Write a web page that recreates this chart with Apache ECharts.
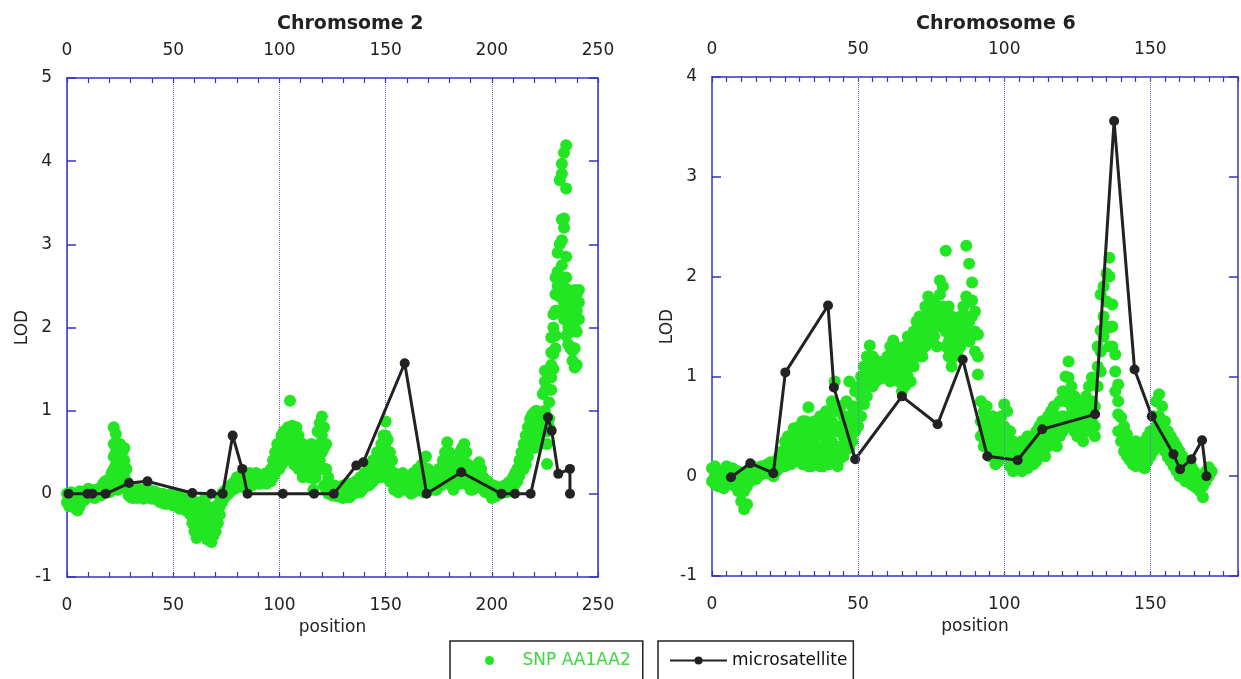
<!DOCTYPE html>
<html><head><meta charset="utf-8">
<script src="https://cdn.jsdelivr.net/npm/echarts@6/dist/echarts.min.js"></script>
<style>html,body{margin:0;padding:0;background:#fff}#c{width:1241px;height:679px}</style>
</head><body><div id="c"></div>
<script>
// ---------- Chromosome 2 ----------
const chr2Title = 'Chromsome 2';
const snp2Pos = [0,1,2,3,4,5,6,7,8,9,10,11,12,13,14,15,16,17,18,19,20,21,22,23,24,25,26,27,28,29,
30,31,32,33,34,35,36,37,38,39,40,41,42,43,44,45,46,47,48,49,50,51,52,53,54,55,56,57,58,59,
60,61,62,63,64,65,66,67,68,69,70,71,72,73,74,75,76,77,78,79,80,81,82,83,84,85,86,87,88,89,
90,91,92,93,94,95,96,97,98,99,100,101,102,103,104,105,106,107,108,109,110,111,112,113,114,115,116,117,118,119,
120,121,122,123,124,125,126,127,128,129,130,131,132,133,134,135,136,137,138,139,140,141,142,143,144,145,146,147,148,149,
150,151,152,153,154,155,156,157,158,159,160,161,162,163,164,165,166,167,168,169,170,171,172,173,174,175,176,177,178,179,
180,181,182,183,184,185,186,187,188,189,190,191,192,193,194,195,196,197,198,199,200,201,202,203,204,205,206,207,208,209,
210,211,212,213,214,215,216,217,218,219,220,221,222,223,224,225,226,227,228,229,230,231,232,233,234,235,236,237,238,239,240,241];
const snp2Lod = [
[0,-0.1],[-0.05,-0.15],[0.02,-0.12],[-0.05,-0.1],[-0.18,-0.08],[-0.2,0],[-0.1,0.03,-0.15],[-0.05],[0,-0.08],[0.03,-0.05],
[-0.02,0.06],[0,0.05],[-0.03,0.04],[0.02,-0.05],[0.05,-0.02],[0,0.06],[0.08,-0.02],[0.12,0.02],[0.05,0.15],[0.15,0.02],
[0.1,0.02,0.18],[0.25,0.05,0.15],[0.8,0.6,0.45,0.3,0.15],[0.72,0.5,0.35,0.15],[0.55,0.35,0.2,0.05],[0.6,0.45,0.25,0.1],[0.5,0.3,0.1],[0.55,0.4,0.2],[0.3,0.05,0.15],[0.1,-0.02],
[0.05,-0.04],[0.02,-0.05],[0.08,0],[0,-0.05],[0.03,-0.04],[-0.03,0.05],[0.02,-0.06],[0.05,-0.02],[-0.02,0.06],[0.03,-0.05],
[0,-0.06],[-0.05,0.03],[0.02,-0.06],[-0.08,0],[-0.03,-0.1],[0,-0.1],[-0.05,-0.12],[-0.12,-0.02],[-0.03,-0.1],[-0.08,0],
[-0.05,-0.14],[-0.12,-0.03],[-0.02,-0.1],[-0.1,-0.18],[-0.15,-0.05],[-0.05,-0.12],[-0.1,-0.2],[-0.08,-0.16],[-0.25,-0.1],[-0.35,-0.15],
[-0.45,-0.2,-0.3],[-0.53,-0.3,-0.1],[-0.45,-0.25,-0.35],[-0.4,-0.15,-0.28],[-0.35,-0.2],[-0.5,-0.3,-0.05,-0.4],[-0.55,-0.35,-0.15,-0.45],[-0.45,-0.25,-0.35],[-0.58,-0.4,-0.2,-0.5],[-0.5,-0.3,-0.4],
[-0.45,-0.15,-0.3],[-0.35,-0.2],[-0.25,-0.05,-0.15],[-0.1,0],[-0.05,0.03],[0.05,-0.02],[0.08,0],[0.1,0.03],[0.12,0.05],[0.15,0.06],
[0.2,0.08],[0.18,0.1],[0.22,0.12],[0.15,0.08],[0.25,0.18],[0.2,0.12],[0.15,0.25],[0.18,0.1],[0.22,0.14],[0.15,0.25],
[0.2,0.12],[0.12,0.2],[0.22,0.14],[0.15,0.24],[0.2,0.12],[0.25,0.15],[0.3,0.15],[0.4,0.2],[0.5,0.25,0.35],[0.6,0.35,0.45],
[0.55,0.4,0.3],[0.7,0.5,0.35],[0.75,0.6,0.45],[0.7,0.55,0.4],[0.8,0.6,0.45],[1.12,0.78,0.5,0.62],[0.82,0.65,0.45],[0.75,0.55,0.35],[0.8,0.6,0.45],[0.7,0.45,0.3],
[0.55,0.35,0.45],[0.6,0.4,0.2],[0.45,0.25,0.35],[0.55,0.35,0.45],[0.5,0.2,0.35],[0.6,0.4,0.5],[0.3,0.05,0.18],[0.55,0.2,0.38],[0.75,0.5,0.3],[0.85,0.6,0.4],
[0.93,0.7,0.5,0.3],[0.8,0.55,0.1,0.3],[0.6,0.3,0.05],[0.2,0,0.1],[0.1,0.02],[0.05,-0.02],[0.02,0.1],[-0.03,0.08],[0.05,-0.03],[0,0.08],
[-0.05,0.1],[0.05,-0.03],[0.02,0.12],[0.12,-0.04],[0.08,0.02],[0,0.1],[0.15,0.05],[0.1,0.02],[0.2,0.02,0.1],[0.12,0.05],
[0.25,0.08],[0.18,0.1],[0.3,0.1,0.2],[0.22,0.12],[0.4,0.15,0.28],[0.3,0.18],[0.5,0.2,0.35],[0.45,0.3],[0.6,0.4,0.2],[0.7,0.5,0.3],
[0.87,0.55,0.35,0.7],[0.65,0.45,0.2],[0.5,0.3,0.15],[0.4,0.15,0.25],[0.25,0.05,0.15],[0.2,0.1],[0.15,0.02],[0.22,0.08],[0.1,0.25],[0.05,0.15],
[0.18,0.05],[0.2,0.08],[0.1,0],[0.25,0.12],[0.12,0.03],[0.3,0.05,0.18],[0.2,0.08],[0.35,0.1,0.22],[0.25,0.02,0.12],[0.45,0.15,0.3],
[0.3,0.12],[0.2,0.05],[0.1,0.2],[0.25,0.05,0.15],[0.15,0.05],[0.3,0.1,0.2],[0.2,0.1],[0.4,0.15,0.28],[0.5,0.3,0.15],[0.62,0.45,0.2,0.32],
[0.5,0.3,0.15],[0.35,0.1,0.22],[0.2,0.05],[0.3,0.15],[0.4,0.15,0.28],[0.5,0.25,0.12],[0.55,0.3,0.42],[0.6,0.4,0.2],[0.5,0.25,0.12],[0.35,0.1,0.22],
[0.25,0.05,0.15],[0.15,0.05],[0.3,0.1,0.2],[0.2,0.08],[0.38,0.15,0.26],[0.3,0.12],[0.2,0.05],[0.1,0.02],[0.05,0.15],[0,0.08],
[-0.05,0.05],[0.02,0.1],[-0.03,0.05],[0.05,0],[0,0.08],[0.08,0.02],[0.03,0.1],[0.1,0.02],[0.05,0.14],[0.12,0.05],
[0.2,0.05,0.12],[0.25,0.12],[0.3,0.15],[0.4,0.22],[0.5,0.3,0.4],[0.6,0.45,0.3],[0.7,0.5,0.35],[0.8,0.6,0.45],[0.9,0.7,0.55],[0.95,0.8,0.6],
[0.98,0.85,0.7,0.55],[1.0,0.85,0.7],[0.95,0.8,0.65],[0.9,0.75,0.6],[1.2,0.95,0.8],[1.48,1.35,1.24,1.0,0.85],[0.36,0.6,0.75],[1.1,0.9,0.8],[1.88,1.7,1.55,1.4,1.25],[2.16,2.0,1.68,1.5],
[2.2,2.4,2.6,1.9,1.75],[2.67,2.5,2.9],[3.77,2.37,3.0,2.2],[3.97,3.85,3.3,3.05,2.75,2.5],[4.1,3.31,3.2,2.49,2.3,2.1],[4.19,3.67,2.85,2.6,2.35,2.1,1.9],[2.45,2.2,2.0,1.8],[2.4,2.15,1.95,1.75],[2.3,2.1,1.72,1.6],[2.45,2.24,2.0,1.52,1.75],
[2.4,2.2,1.95,1.55],[2.45,2.3,2.1]];
const micro2Pos = [0.7,9.7,11.9,18.2,29.2,37.9,59,68,73.3,78,82.5,85,101.6,116.3,125.6,136.2,139.5,159,169.3,185.6,204.6,210.9,218.3,226.4,228.2,231.3,236.8,236.8];
const micro2Lod = [0,0,0,0,0.13,0.15,0.01,0,0,0.70,0.30,0,0,0,0,0.34,0.38,1.57,0,0.26,0,0,0,0.92,0.76,0.24,0.30,0];

// ---------- Chromosome 6 ----------
const chr6Title = 'Chromosome 6';
const snp6Pos = [0,1,2,3,4,5,6,7,8,9,10,11,12,13,14,15,16,17,18,19,20,21,22,23,24,25,26,27,28,29,
30,31,32,33,34,35,36,37,38,39,40,41,42,43,44,45,46,47,48,49,50,51,52,53,54,55,56,57,58,59,
60,61,62,63,64,65,66,67,68,69,70,71,72,73,74,75,76,77,78,79,80,81,82,83,84,85,86,87,88,89,
90,91,92,93,94,95,96,97,98,99,100,101,102,103,104,105,106,107,108,109,110,111,112,113,114,115,116,117,118,119,
120,121,122,123,124,125,126,127,128,129,130,131,132,133,134,135,136,137,138,139,140,141,142,143,144,145,146,147,148,149,
150,151,152,153,154,155,156,157,158,159,160,161,162,163,164,165,166,167,168,169,170,171];
const snp6Lod = [
[0.08,-0.05],[0.1,0,-0.08],[0.02,-0.1],[0.05,-0.05],[-0.02,-0.12],[0.1,0],[0.05,-0.08],[0.08,-0.02],[0,-0.1],[-0.15,0.05],
[-0.25,-0.05],[-0.33,-0.15,0.02],[-0.28,-0.1,0.05],[-0.05,0.08],[0,0.1],[0.05,-0.03],[0.08,0],[0.02,0.1],[0.1,0.04],[0.12,0.03],
[0.06,0.14],[0.1,0],[0.15,0.05],[0.2,0.08],[0.25,0.12],[0.35,0.2,0.1],[0.3,0.15,0.4],[0.4,0.25,0.12],[0.35,0.2,0.48],[0.45,0.3,0.15],
[0.5,0.35,0.2],[0.4,0.25,0.12,0.55],[0.55,0.3,0.15,0.42],[0.69,0.45,0.25,0.1],[0.5,0.35,0.2,0.1],[0.4,0.25,0.12,0.55],[0.55,0.3,0.15,0.42],[0.45,0.25,0.1,0.6],[0.6,0.4,0.2,0.1],[0.5,0.3,0.15,0.65],
[0.65,0.45,0.25,0.12],[0.75,0.55,0.35,0.2],[0.95,0.7,0.5,0.3,0.15],[0.65,0.45,0.25,0.1],[0.7,0.5,0.3,0.18],[0.6,0.4,0.2],[0.75,0.55,0.35],[0.95,0.6,0.4,0.28],[0.7,0.5,0.35],[0.85,0.6,0.45],
[0.9,0.7,0.5],[1.0,0.8,0.6],[1.1,0.9,0.72],[1.2,1.0,0.8],[1.31,1.1,0.95],[1.2,1.05,0.9],[1.1,0.95],[1.15,1.05],[1.08,0.98],[1.12,1.0],
[1.2,1.05],[1.3,1.1,0.95],[1.36,1.2,1.05],[1.3,1.15,1.0],[1.25,1.1,0.95],[1.2,1.05,0.85],[1.3,1.1,0.9],[1.4,1.2,1.0],[1.35,1.15,0.95],[1.45,1.3,1.1],
[1.55,1.35,1.2],[1.6,1.45,1.3],[1.5,1.35,1.2],[1.7,1.5,1.3],[1.8,1.6,1.4],[1.65,1.5,1.35],[1.75,1.55,1.4],[1.7,1.5,1.3],[1.96,1.82,1.6],[1.9,1.7,1.5],
[2.26,1.6,1.45,1.3],[1.7,1.5,1.35,1.2],[1.6,1.4,1.25,1.1],[1.55,1.35,1.2],[1.5,1.4,1.25],[1.6,1.45,1.3],[1.7,1.55,1.4],[2.31,1.8,1.6,1.45],[2.13,1.75,1.55,1.35],[1.94,1.76,1.6,1.4],
[1.65,1.45,1.25],[1.42,1.02,1.2],[0.75,0.55,0.4],[0.65,0.45,0.3],[0.7,0.5,0.35],[0.55,0.35,0.2],[0.6,0.4,0.25],[0.45,0.25,0.12],[0.55,0.3,0.15],[0.6,0.4,0.2],
[0.72,0.5,0.3],[0.65,0.4,0.2],[0.45,0.25,0.1],[0.35,0.15,0.05],[0.3,0.08,0.18],[0.25,0.1],[0.35,0.15,0.05],[0.3,0.1,0.2],[0.4,0.2,0.08],[0.35,0.15,0.25],
[0.4,0.25,0.12],[0.45,0.3,0.15],[0.5,0.35,0.2],[0.55,0.4,0.25],[0.5,0.35,0.2],[0.6,0.45,0.3],[0.65,0.5,0.35],[0.7,0.5,0.35],[0.6,0.45,0.3],[0.75,0.55,0.4],
[0.85,0.6,0.45],[1.0,0.75,0.5],[1.15,0.99,0.8,0.6],[0.9,0.7,0.5],[0.8,0.6,0.45],[0.7,0.55,0.4],[0.75,0.6,0.45],[0.65,0.5,0.35],[0.8,0.6,0.45],[0.9,0.7,0.5],
[0.99,0.75,0.55],[0.7,0.5,0.4],[1.3,1.1,0.9],[1.82,1.46,1.25,1.05],[1.9,1.6,1.4],[2.03,1.75,1.5],[2.19,2.0,1.49,1.3],[1.72,1.5,1.3],[1.22,1.05,0.85],[0.92,0.75,0.62,0.45],
[0.59,0.45,0.35],[0.5,0.35,0.25],[0.42,0.3,0.2],[0.35,0.25,0.16],[0.3,0.2,0.12],[0.22,0.35,0.1],[0.3,0.15],[0.25,0.1],[0.35,0.2,0.08],[0.4,0.25,0.15],
[0.45,0.3,0.2],[0.6,0.4,0.25],[0.75,0.5,0.3],[0.82,0.6,0.4],[0.7,0.52,0.35],[0.55,0.4,0.25],[0.45,0.3,0.19],[0.4,0.25,0.15],[0.35,0.2,0.1],[0.3,0.15,0.05],
[0.25,0.1,0],[0.2,0.05],[0.15,0,-0.05],[0.06,-0.05],[0.1,-0.08],[0.05,-0.1],[0,-0.12],[-0.05,-0.15],[-0.21,-0.1],[0.05,-0.05],
[0.09,0],[0.05]];
const micro6Pos = [6.5,13.1,21,25.1,39.7,41.7,49,65,77.2,85.8,94.2,104.6,113,131.1,137.6,144.6,150.5,157.9,160.2,164.1,167.7,169.2];
const micro6Lod = [-0.01,0.13,0.03,1.04,1.71,0.89,0.17,0.80,0.52,1.17,0.20,0.16,0.47,0.62,3.56,1.07,0.60,0.22,0.07,0.17,0.36,0];

const xTicks2 = [0,50,100,150,200,250];
const xTicks6 = [0,50,100,150];
const yTicks2 = [-1,0,1,2,3,4,5];
const yTicks6 = [-1,0,1,2,3,4];
const legendNames = ['SNP AA1AA2','microsatellite'];

// ---------- build ----------
function flat(pos, lods){ const out=[]; pos.forEach((p,i)=>lods[i].forEach(v=>out.push([p,v]))); return out; }
function pairs(a,b){ return a.map((p,i)=>[p,b[i]]); }

const FONT = 'DejaVu Sans';
const BLUE = '#3434c4';
const GRIDC = '#6a6ade';
const GREEN = '#22e622';
const TXT = '#222';

function xAxis(grid, pos, max, interval, minorSplit, ticks, showSplit, withName){
  return {
    type:'value', gridIndex:grid, position:pos, min:ticks[0], max:max, interval:interval,
    name: withName ? 'position' : '', nameLocation:'middle', nameGap:41,
    nameTextStyle:{fontFamily:FONT,fontSize:17,color:TXT},
    axisLine:{show:true,onZero:false,lineStyle:{color:BLUE,width:1.5}},
    axisTick:{show:true,inside:true,length:5,lineStyle:{color:BLUE,width:1.2}},
    minorTick:{show:true,splitNumber:minorSplit,length:5,lineStyle:{color:BLUE,width:1.2}},
    splitLine:{show:showSplit,lineStyle:{color:GRIDC,width:1,type:[1,1]}},
    minorSplitLine:{show:false},
    axisLabel:{show:true,margin:pos==='top'?19:20,fontFamily:FONT,fontSize:17,color:TXT,
      formatter:(v)=> ticks.indexOf(v)>=0 ? String(v) : ''}
  };
}
function yAxis(grid, pos, ticks, nameGap){
  return {
    type:'value', gridIndex:grid, position:pos, min:ticks[0], max:ticks[ticks.length-1], interval:1,
    name: pos==='left' ? 'LOD' : '', nameLocation:'middle', nameGap:nameGap, nameRotate:90,
    nameTextStyle:{fontFamily:FONT,fontSize:17,color:TXT},
    axisLine:{show:true,onZero:false,lineStyle:{color:BLUE,width:1.5}},
    axisTick:{show:true,inside:true,length:9,lineStyle:{color:BLUE,width:1.5}},
    splitLine:{show:false},
    axisLabel:{show:pos==='left',margin:15,fontFamily:FONT,fontSize:17,color:TXT}
  };
}

const option = {
  backgroundColor:'#fff',
  animation:false,
  title:[
    {text:chr2Title,left:272,top:10,textStyle:{fontFamily:FONT,fontSize:19,fontWeight:'bold',color:TXT}},
    {text:chr6Title,left:911,top:10,textStyle:{fontFamily:FONT,fontSize:19,fontWeight:'bold',color:TXT}}
  ],
  grid:[
    {left:67,top:78,width:531,height:499},
    {left:712,top:77,width:528,height:499}
  ],
  xAxis:[
    xAxis(0,'bottom',250,50,5,xTicks2,true,true),
    xAxis(0,'top',250,50,5,xTicks2,false,false),
    xAxis(1,'bottom',180,10,2,xTicks6,false,true),
    xAxis(1,'top',180,10,2,xTicks6,false,false)
  ],
  yAxis:[
    yAxis(0,'left',yTicks2,36),
    yAxis(0,'right',yTicks2,0),
    yAxis(1,'left',yTicks6,30),
    yAxis(1,'right',yTicks6,0)
  ],
  legend:[
    {data:[{name:legendNames[0],icon:'circle',textStyle:{color:'#3cd83c'}}],
     left:450,top:641,orient:'horizontal',itemWidth:56,itemHeight:9,itemGap:0,
     padding:[11,12,12,35],borderColor:'#222',borderWidth:1.5,
     textStyle:{fontFamily:FONT,fontSize:17}},
    {data:[{name:legendNames[1],textStyle:{color:'#111'}}],
     left:658,top:641,itemWidth:57,itemHeight:10,itemGap:0,
     padding:[11,6,12,11],borderColor:'#222',borderWidth:1.5,
     textStyle:{fontFamily:FONT,fontSize:17}}
  ],
  series:[
    {type:'line',xAxisIndex:2,yAxisIndex:2,data:[],silent:true,z:1,
     markLine:{silent:true,symbol:'none',label:{show:false},
       lineStyle:{color:GRIDC,width:1,type:[1,1]},
       data:xTicks6.slice(1).map(v=>({xAxis:v}))}},
    {name:legendNames[0],type:'scatter',xAxisIndex:0,yAxisIndex:0,symbol:'circle',symbolSize:12,
     itemStyle:{color:GREEN,opacity:1},data:flat(snp2Pos,snp2Lod),z:2},
    {name:legendNames[1],type:'line',xAxisIndex:0,yAxisIndex:0,symbol:'circle',symbolSize:10,showAllSymbol:true,
     lineStyle:{color:'#222',width:3},itemStyle:{color:'#222'},data:pairs(micro2Pos,micro2Lod),z:3},
    {name:legendNames[0],type:'scatter',xAxisIndex:2,yAxisIndex:2,symbol:'circle',symbolSize:12,
     itemStyle:{color:GREEN,opacity:1},data:flat(snp6Pos,snp6Lod),z:2},
    {name:legendNames[1],type:'line',xAxisIndex:2,yAxisIndex:2,symbol:'circle',symbolSize:10,showAllSymbol:true,
     lineStyle:{color:'#222',width:3},itemStyle:{color:'#222'},data:pairs(micro6Pos,micro6Lod),z:3}
  ]
};
const chart = echarts.init(document.getElementById('c'),null,{renderer:'canvas'});
chart.setOption(option);
</script></body></html>
